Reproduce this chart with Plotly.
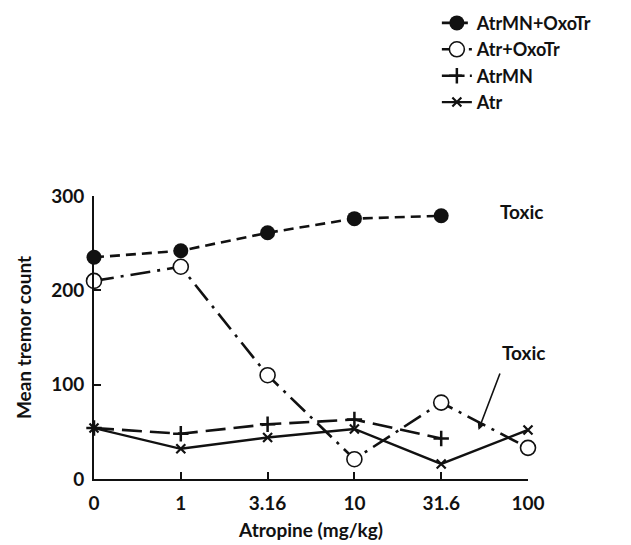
import plotly.graph_objects as go

doses = ["0", "1", "3.16", "10", "31.6", "100"]
atrmn_oxotr = [235, 242, 261, 276, 279]
atr_oxotr = [210, 225, 110, 21, 81, 33]
atrmn = [54, 48, 58, 63, 43]
atr = [54, 32, 44, 53, 16, 52]

series_names = ["AtrMN+OxoTr", "Atr+OxoTr", "AtrMN", "Atr"]

FONT = "Lato"
BLACK = "#111111"

fig = go.Figure()

def xs(vals):
    return list(range(len(vals)))

fig.add_trace(go.Scatter(
    x=xs(atrmn_oxotr), y=atrmn_oxotr, name=series_names[0], mode="lines+markers",
    line=dict(color=BLACK, width=2.6, dash="10px,6px"),
    marker=dict(symbol="circle", size=15, color=BLACK),
    cliponaxis=False))
fig.add_trace(go.Scatter(
    x=xs(atr_oxotr), y=atr_oxotr, name=series_names[1], mode="lines+markers",
    line=dict(color=BLACK, width=2.6, dash="20px,7px,3px,7px"),
    marker=dict(symbol="circle", size=15, color="white", line=dict(color=BLACK, width=1.6)),
    cliponaxis=False))
fig.add_trace(go.Scatter(
    x=xs(atrmn), y=atrmn, name=series_names[2], mode="lines+markers",
    line=dict(color=BLACK, width=2.6, dash="20px,8px"),
    marker=dict(symbol="cross-thin", size=11, color=BLACK, line=dict(color=BLACK, width=2.5)),
    cliponaxis=False))
fig.add_trace(go.Scatter(
    x=xs(atr), y=atr, name=series_names[3], mode="lines+markers",
    line=dict(color=BLACK, width=2.4),
    marker=dict(symbol="x-thin", size=9, color=BLACK, line=dict(color=BLACK, width=2.2)),
    cliponaxis=False))

fig.add_annotation(x=4.65, y=284, text="<b>Toxic</b>", showarrow=False,
                   xanchor="left", yanchor="middle",
                   font=dict(family=FONT, size=19, color=BLACK))
fig.add_annotation(x=4.95, y=134, text="<b>Toxic</b>", showarrow=False,
                   xanchor="center", yanchor="middle",
                   font=dict(family=FONT, size=19, color=BLACK))
fig.add_annotation(x=4.43, y=52, text="", showarrow=True, ax=22, ay=-58,
                   arrowhead=2, arrowsize=1, arrowwidth=1.6, arrowcolor=BLACK)

fig.update_layout(
    width=631, height=545,
    paper_bgcolor="white", plot_bgcolor="white",
    margin=dict(l=86, r=111, t=188, b=74, autoexpand=False),
    font=dict(family=FONT, size=19, color=BLACK),
    showlegend=True,
    legend=dict(x=0.79, y=1.676, xanchor="left", yanchor="top",
                font=dict(family=FONT, size=18, color=BLACK, weight="bold"),
                bgcolor="rgba(0,0,0,0)", tracegroupgap=0),
    xaxis=dict(range=[0, 5], tickmode="array", tickvals=list(range(len(doses))),
               ticktext=doses, showgrid=False, zeroline=False,
               showline=True, linecolor=BLACK, linewidth=2,
               ticks="inside", ticklen=7, tickwidth=2, tickcolor=BLACK,
               ticklabelstandoff=6,
               tickfont=dict(family=FONT, size=19, color=BLACK, weight="bold"),
               title=dict(text="<b>Atropine (mg/kg)</b>", standoff=11,
                          font=dict(family=FONT, size=19, color=BLACK))),
    yaxis=dict(range=[0, 300], tickvals=[0, 100, 200, 300], showgrid=False,
               zeroline=False, showline=True, linecolor=BLACK, linewidth=2,
               ticks="inside", ticklen=7, tickwidth=2, tickcolor=BLACK,
               ticklabelstandoff=4,
               tickfont=dict(family=FONT, size=19, color=BLACK, weight="bold"),
               title=dict(text="<b>Mean tremor count</b>", standoff=14,
                          font=dict(family=FONT, size=19, color=BLACK))),
)

fig.write_html("out.html")
